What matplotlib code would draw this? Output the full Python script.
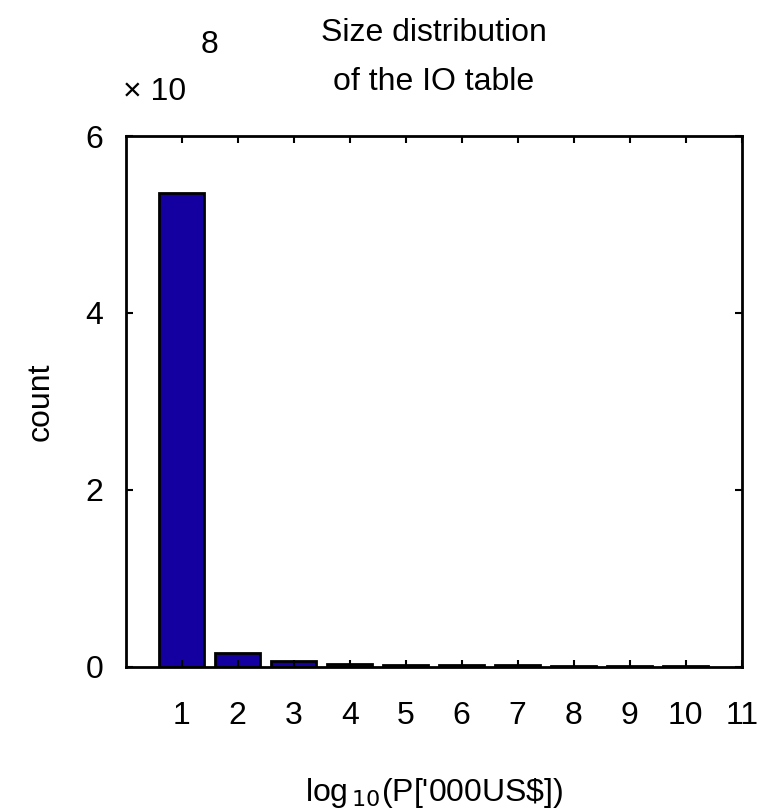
import numpy as np
import matplotlib
matplotlib.use("Agg")
from matplotlib import pyplot as plt

# histogram of log10 sizes (counts)
bins = [1, 2, 3, 4, 5, 6, 7, 8, 9, 10]
counts = [5.36e8, 1.55e7, 6.7e6, 2.5e6, 2.0e6, 1.6e6, 1.4e6, 1.2e6, 1.1e6, 1.0e6]
yticks = [0, 2, 4, 6]
xticks = [1, 2, 3, 4, 5, 6, 7, 8, 9, 10, 11]

plt.rcParams['font.family'] = ['Liberation Sans', 'DejaVu Sans']

fig = plt.figure(figsize=(7.67, 8.10), dpi=100)
ax = fig.add_axes([0.164, 0.177, 0.803, 0.655])

scale = 1e8
ax.bar(bins, np.array(counts) / scale, width=0.8, color='#1400a0',
       edgecolor='black', linewidth=2)

ax.set_xlim(0, 11)
ax.set_ylim(0, 6)
ax.set_xticks(xticks)
ax.set_yticks(yticks)
ax.tick_params(direction='in', top=True, right=True, length=5, width=1.5,
               labelsize=23)
ax.tick_params(axis='x', pad=25)
ax.tick_params(axis='y', pad=16)
for s in ax.spines.values():
    s.set_linewidth(2)

ax.set_xlabel(r"log$_{\,10}$(P['000US\$])", fontsize=23, labelpad=32)
ax.set_ylabel("count", fontsize=23, labelpad=22)
ax.set_title("Size distribution\nof the IO table", fontsize=23, pad=33,
             linespacing=1.85)

fig.text(0.161, 0.887, "\u00d7 10", fontsize=23, ha='left', va='center')
fig.text(0.262, 0.944, "8", fontsize=23, ha='left', va='center')

plt.savefig("out.png", dpi=100)
